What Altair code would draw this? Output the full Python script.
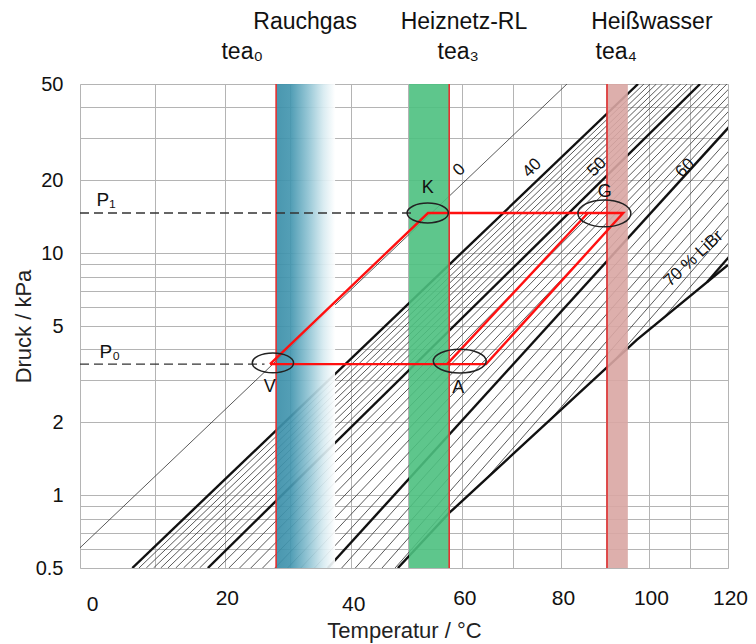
import altair as alt
import pandas as pd
import numpy as np

# ---------------- data ----------------
# LiBr isosteres (mass-% LiBr): temperature (°C) where each line meets p = 0.5 kPa and p = 50 kPa
conc = list(range(40, 71))
t_at_p_low = [6.9, 7.8, 8.8, 9.8, 10.8, 11.8, 12.9, 14.0, 15.1, 16.3, 17.5, 19.0, 20.6, 22.2,
              23.9, 25.7, 27.6, 29.6, 31.7, 33.9, 36.1, 38.4, 40.7, 43.0, 45.3, 47.6, 49.9,
              52.2, 54.5, 56.9, 59.4]
t_at_p_high = [97.4, 98.8, 100.3, 101.8, 103.3, 104.8, 106.3, 107.8, 109.4, 111.0, 112.7,
               114.4, 116.1, 117.9, 119.7, 121.5, 123.3, 125.2, 127.1, 129.0, 131.0, 133.9,
               136.9, 140.0, 143.2, 146.5, 149.9, 153.4, 157.0, 160.8, 164.8]
p_low, p_high = 0.5, 50.0
# pure water line (0 %)
water_t = [-2.7, 81.3]
water_p = [0.5, 50.0]
# crystallisation line
cryst_t = [48.1, 57.5, 97.1, 120.0]
cryst_p = [0.5, 0.844, 4.38, 8.94]

# process points
p0, p1 = 3.48, 14.65
cycle_t = [26.85, 53.55, 93.9, 64.6, 26.85]
cycle_p = [p0, p1, p1, p0, p0]
inner_t = [57.1, 85.9]
inner_p = [p0, p1]
dash_p = [p1, p0]
dash_t_end = [51.0, 26.0]

# heat source / sink temperatures (°C)
tea0, tea3, tea4 = 27.8, 57.5, 90.2
band_blue = [27.8, 37.3]
band_green = [50.1, 57.5]
band_red = [90.2, 95.0]

# marked states (ellipses) and letters
ell_small = pd.DataFrame({"T": [27.3, 53.5], "P": [3.52, 14.65]})
ell_big_round = pd.DataFrame({"T": [89.6], "P": [14.6]})
ell_big_flat = pd.DataFrame({"T": [59.5], "P": [3.58]})
letters = pd.DataFrame({"T": [26.8, 53.5, 89.7, 59.2], "P": [2.80, 18.6, 17.9, 2.78],
                        "txt": ["V", "K", "G", "A"]})
plabels = pd.DataFrame({"T": [3.4, 3.9], "P": [16.6, 3.91], "txt": ["P\u2081", "P\u2080"]})
iso_labels = pd.DataFrame({"T": [59.4, 73.9, 87.9, 108.9], "P": [22.1, 22.5, 22.7, 22.5],
                           "txt": ["0", "40", "50", "60"]})
libr_label = pd.DataFrame({"T": [111.0], "P": [9.5], "txt": ["70 % LiBr"]})
top_row1 = pd.DataFrame({"T": [32.4, 60.3, 100.7], "P": [90.2] * 3,
                         "txt": ["Rauchgas", "Heiznetz-RL", "Heißwasser"]})
top_row2 = pd.DataFrame({"T": [22.6, 59.2, 92.3], "P": [67.8] * 3,
                         "txt": ["tea\u2080", "tea\u2083", "tea\u2084"]})

grid_t = list(range(0, 130, 10))
label_t = [0, 20, 40, 60, 80, 100, 120]
grid_p = [0.5, 0.6, 0.7, 0.8, 0.9, 1, 2, 3, 4, 5, 6, 7, 8, 9, 10, 20, 30, 40, 50]
label_p = [0.5, 1, 2, 5, 10, 20, 50]

# ---------------- helpers ----------------
def u_of(t):
    return -1000.0 / (np.asarray(t, dtype=float) + 273.15)

def add_u(df):
    df = df.copy()
    df["u"] = u_of(df["T"])
    return df

cu = u_of(cryst_t)
cv = np.log10(cryst_p)

rows = []
for c, tb, tt in zip(conc, t_at_p_low, t_at_p_high):
    ub, ut = float(u_of(tb)), float(u_of(tt))
    vb, vt = np.log10(p_low), np.log10(p_high)
    start = (ub, vb)
    if ub > cu[0]:  # lower end lies in the crystallised region -> start on crystallisation line
        for i in range(len(cu) - 1):
            a1, b1, a2, b2 = cu[i], cv[i], cu[i + 1], cv[i + 1]
            d = np.array([[ut - ub, -(a2 - a1)], [vt - vb, -(b2 - b1)]])
            rhs = np.array([a1 - ub, b1 - vb])
            if abs(np.linalg.det(d)) < 1e-12:
                continue
            s, r = np.linalg.solve(d, rhs)
            if 0 <= s <= 1 and 0 <= r <= 1:
                start = (ub + s * (ut - ub), vb + s * (vt - vb))
                break
    w = "thick" if c % 10 == 0 else "thin"
    rows.append({"line": f"c{c}", "u": start[0], "P": 10 ** start[1], "w": w, "k": 0})
    rows.append({"line": f"c{c}", "u": ut, "P": p_high, "w": w, "k": 1})
iso = pd.DataFrame(rows)

water = pd.DataFrame({"u": u_of(water_t), "P": water_p, "k": [0, 1]})
cryst = pd.DataFrame({"u": cu, "P": cryst_p, "k": range(len(cu))})
cycle = pd.DataFrame({"u": u_of(cycle_t), "P": cycle_p, "k": range(len(cycle_t))})
inner = pd.DataFrame({"u": u_of(inner_t), "P": inner_p, "k": [0, 1]})
dash = pd.DataFrame({"u": list(u_of([0.0, 0.0])), "u2": list(u_of(dash_t_end)), "P": dash_p})

bands = pd.DataFrame({
    "u": u_of([band_green[0], band_red[0]]),
    "u2": u_of([band_green[1], band_red[1]]),
    "p": [p_low, p_low], "p2": [p_high, p_high],
    "col": ["#4cc07f", "#d9a6a3"],
})
blue = pd.DataFrame({"u": u_of([band_blue[0]]), "u2": u_of([band_blue[1]]),
                     "p": [p_low], "p2": [p_high]})
reds = pd.DataFrame({"u": u_of([tea0, tea3, tea4])})

FONT = "Liberation Sans"
xdom = [float(u_of(0)), float(u_of(120))]
# the 0 label sits a little to the right, 0 and 40 a little lower
zero_test = "datum.value < -3.6"
low_test = "datum.value < -3.6 || abs(datum.value + 3.1934) < 0.01"
X = alt.X("u:Q", scale=alt.Scale(domain=xdom, nice=False, zero=False),
          axis=alt.Axis(values=[float(v) for v in u_of(grid_t)],
                        labelExpr="indexof([0,20,40,60,80,100,120], round(-1000/datum.value-273.15)) >= 0 ? toString(round(-1000/datum.value-273.15)) : ''",
                        grid=True, ticks=False, tickSize=0, domain=False,
                        labelFontSize=21, labelFont=FONT, labelColor="#111",
                        labelPadding={"condition": {"test": low_test, "value": 25}, "value": 19},
                        labelOffset={"condition": {"test": zero_test, "value": 12}, "value": 2},
                        labelFlush=False, labelOverlap=False,
                        title="Temperatur / °C", titleFont=FONT, titleFontSize=22,
                        titleFontWeight="normal", titleColor="#222", titleY=62,
                        titleBaseline="middle", gridColor="#b4b4b4", gridWidth=1))
Y = alt.Y("P:Q", scale=alt.Scale(type="log", domain=[0.5, 50], nice=False),
          axis=alt.Axis(values=grid_p, format="~g",
                        labelExpr="indexof([0.5,1,2,5,10,20,50], datum.value) >= 0 ? datum.label : ''",
                        grid=True, ticks=False, tickSize=0, domain=False,
                        labelFontSize=20, labelFont=FONT, labelColor="#111",
                        labelPadding=17, labelFlush=False, labelOverlap=False,
                        title="Druck / kPa", titleFont=FONT, titleFontSize=22,
                        titleFontWeight="normal", titleColor="#222", titleX=-57,
                        titleY=242, titleAngle=270, titleAlign="center",
                        titleBaseline="middle", gridColor="#b4b4b4", gridWidth=1))

base_iso = alt.Chart(iso).mark_line(clip=True).encode(
    x=X, y=Y, detail="line:N", order="k:Q",
    strokeWidth=alt.StrokeWidth("w:N", scale=alt.Scale(domain=["thin", "thick"], range=[0.85, 2.4]), legend=None),
    color=alt.Color("w:N", scale=alt.Scale(domain=["thin", "thick"], range=["#3c3c3c", "#111111"]), legend=None),
)
water_line = alt.Chart(water).mark_line(clip=True, color="#3c3c3c", strokeWidth=0.85).encode(
    x="u:Q", y="P:Q", order="k:Q")
cryst_line = alt.Chart(cryst).mark_line(clip=True, color="#111111", strokeWidth=2.4).encode(
    x="u:Q", y="P:Q", order="k:Q")

band_rect = alt.Chart(bands).mark_rect(opacity=0.9).encode(
    x="u:Q", x2="u2:Q", y="p:Q", y2="p2:Q", color=alt.Color("col:N", scale=None))
grad = alt.LinearGradient(gradient="linear", x1=0, x2=1, y1=0, y2=0, stops=[
    alt.GradientStop(offset=0, color="#3a8ea8"),
    alt.GradientStop(offset=0.26, color="#4597b0"),
    alt.GradientStop(offset=0.55, color="#8fc3d3"),
    alt.GradientStop(offset=0.8, color="#d6eaf0"),
    alt.GradientStop(offset=1, color="#ffffff")])
blue_rect = alt.Chart(blue).mark_rect(fill=grad, opacity=0.92).encode(
    x="u:Q", x2="u2:Q", y="p:Q", y2="p2:Q")
red_rules = alt.Chart(reds).mark_rule(color="#e53030", strokeWidth=1.6).encode(x="u:Q")

dash_lines = alt.Chart(dash).mark_rule(color="#333333", strokeWidth=1.4, strokeDash=[9, 5]).encode(
    x="u:Q", x2="u2:Q", y="P:Q")
cycle_line = alt.Chart(cycle).mark_line(color="#ff1010", strokeWidth=2.4).encode(
    x="u:Q", y="P:Q", order="k:Q")
inner_line = alt.Chart(inner).mark_line(color="#ff1010", strokeWidth=2.4).encode(
    x="u:Q", y="P:Q", order="k:Q")

def ellipse(df, ratio, size):
    shape = f"M -1 0 A 1 {ratio} 0 1 1 1 0 A 1 {ratio} 0 1 1 -1 0 Z"
    return alt.Chart(add_u(df)).mark_point(shape=shape, size=size, filled=False,
                                           color="#222222", strokeWidth=1.5, opacity=1).encode(
        x="u:Q", y="P:Q")

ell1 = ellipse(ell_small, 0.48, 1700)
ell2 = ellipse(ell_big_round, 0.51, 2800)
ell3 = ellipse(ell_big_flat, 0.45, 2800)

def texts(df, size, angle=0, align="center", color="#111111"):
    kw = dict(font=FONT, fontSize=size, align=align, baseline="middle", color=color)
    if angle:
        kw["angle"] = angle
    return alt.Chart(add_u(df)).mark_text(**kw).encode(x="u:Q", y="P:Q", text="txt:N")

t_letters = texts(letters, 18)
t_p = texts(plabels, 19)
t_iso = texts(iso_labels, 17, angle=315)
t_libr = texts(libr_label, 17, angle=317)
t_top1 = texts(top_row1, 23)
t_top2 = texts(top_row2, 23)

chart = alt.layer(
    base_iso, water_line, cryst_line, blue_rect, band_rect, red_rules,
    dash_lines, cycle_line, inner_line, ell1, ell2, ell3,
    t_letters, t_p, t_iso, t_libr, t_top1, t_top2,
).properties(
    width=648, height=484,
    autosize=alt.AutoSizeParams(type="none"),
    padding={"left": 80, "top": 84, "right": 28, "bottom": 76},
).configure_view(stroke="#5a5a5a", strokeWidth=1.5).configure(background="white")

chart.save("out.html", embed_options={"renderer": "svg", "actions": False})
